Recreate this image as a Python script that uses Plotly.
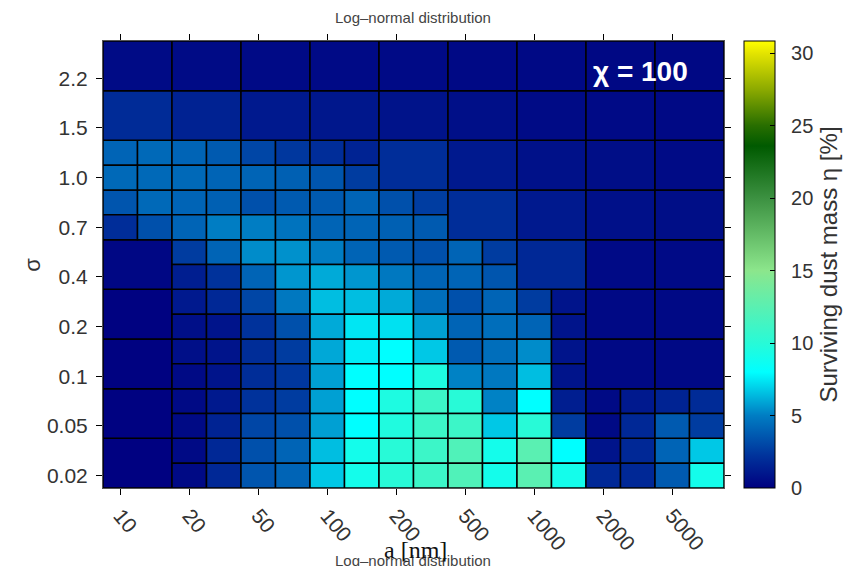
import plotly.graph_objects as go

# ---------------- data ----------------
a_labels = ["10", "20", "50", "100", "200", "500", "1000", "2000", "5000"]
sigma_labels = ["0.02", "0.05", "0.1", "0.2", "0.4", "0.7", "1.0", "1.5", "2.2"]
eta_ticks = [0, 5, 10, 15, 20, 25, 30]

# Surviving dust mass eta [%] per sigma row (columns follow a_labels).
# A single number = unrefined cell; a list = refined cell
# [top-left, top-right, bottom-left, bottom-right]
eta_s002 = [0.05, [0.44, 1.76, 0.44, 1.76], [3.32, 4.07, 3.5, 4.07], [6.5, 9.0, 6.73, 9.0],
            [10.0, 11.0, 10.0, 11.0], [12.0, 9.0, 12.0, 9.0], [12.5, 8.0, 12.5, 9.0],
            [0.88, 1.76, 1.76, 1.76], [4.07, 6.73, 3.7, 9.0]]
eta_s005 = [0.1, [0.44, 1.1, 0.44, 1.54], [2.2, 2.57, 2.95, 3.32], [5.8, 8.0, 5.8, 8.0],
            [9.5, 11.0, 9.6, 11.0], [10.0, 5.12, 11.0, 6.73], [8.0, 1.32, 10.0, 2.57],
            [0.44, 1.1, 0.44, 1.76], [1.54, 1.9, 3.7, 2.57]]
eta_s01 = [0.1, [0.66, 0.88, 0.44, 0.88], [1.98, 2.57, 1.98, 2.39], [6.0, 7.6, 5.8, 8.0],
           [8.0, 6.73, 8.0, 9.5], [3.7, 4.44, 5.12, 4.8], [5.35, 0.88, 6.5, 0.88],
           0.4, 0.4]
eta_s02 = [0.1, [1.1, 1.76, 0.66, 0.88], [2.95, 4.8, 2.2, 3.32], [6.5, 6.5, 6.04, 7.42],
           [6.04, 4.44, 7.3, 5.8], [3.32, 4.07, 4.07, 4.44], [2.57, 0.88, 4.07, 0.88],
           0.4, 0.4]
eta_s04 = [0.3, [2.57, 4.07, 1.32, 2.2], [5.35, 5.45, 4.07, 5.58], [5.0, 4.07, 6.04, 5.58],
           [3.7, 3.32, 4.8, 4.07], [4.07, 2.57, 4.07, 3.5], 1.76, 0.45, 0.45]
eta_s07 = [[3.5, 4.25, 2.0, 3.32], [4.07, 3.9, 4.07, 5.0], [3.32, 3.7, 5.0, 4.63],
           [3.7, 4.07, 4.07, 4.07], [3.32, 2.6, 3.9, 3.7], 2.0, 1.1, 0.7, 0.6]
eta_s10 = [[4.07, 4.25, 4.25, 4.25], [4.07, 3.7, 4.25, 4.07], [2.95, 2.4, 4.07, 3.9],
           [2.0, 1.54, 3.5, 2.57], 2.0, 1.1, 0.75, 0.6, 0.5]
eta_s15 = [1.9, 1.5, 1.1, 1.0, 0.85, 0.65, 0.5, 0.45, 0.4]
eta_s22 = [0.5, 0.5, 0.45, 0.45, 0.45, 0.4, 0.4, 0.35, 0.35]

eta_rows = [eta_s002, eta_s005, eta_s01, eta_s02, eta_s04, eta_s07, eta_s10, eta_s15, eta_s22]

eta_max = 30.84

# ---------------- build cells ----------------
xs, ws, bases, hs, cs = [], [], [], [], []
for j, row in enumerate(eta_rows):
    for i, v in enumerate(row):
        if isinstance(v, list):
            tl, tr, bl, br = v
            for (dx, dy, val) in [(0, 0.5, tl), (0.5, 0.5, tr), (0, 0, bl), (0.5, 0, br)]:
                xs.append(i + dx + 0.25); ws.append(0.5)
                bases.append(j + dy); hs.append(0.5); cs.append(val)
        else:
            xs.append(i + 0.5); ws.append(1.0)
            bases.append(j); hs.append(1.0); cs.append(v)

def f(v):
    return v / eta_max

colorscale = [
    [0.0, "rgb(0,0,128)"],
    [f(2.2), "rgb(0,50,155)"],
    [f(5.0), "rgb(0,125,195)"],
    [f(8.0), "rgb(0,255,255)"],
    [f(10.0), "rgb(40,250,215)"],
    [f(15.0), "rgb(140,230,140)"],
    [f(20.0), "rgb(60,145,65)"],
    [f(23.6), "rgb(0,90,0)"],
    [f(25.0), "rgb(40,110,0)"],
    [f(27.5), "rgb(140,170,0)"],
    [f(30.0), "rgb(228,228,0)"],
    [1.0, "rgb(255,255,0)"],
]

# pixel helpers (plot area: x 103..724, y 41.5..488)
def px(x):
    return (x - 103) / 621.0

def py(y):
    return (488 - y) / 446.5

fig = go.Figure()
fig.add_trace(go.Bar(
    x=xs, y=hs, base=bases, width=ws,
    marker=dict(
        color=cs, colorscale=colorscale, cmin=0, cmax=eta_max,
        line=dict(color="black", width=1.5),
        showscale=True,
        colorbar=dict(
            x=1.032, xanchor="left", y=0.5, yanchor="middle",
            len=1.0, lenmode="fraction", thickness=31, ypad=0, xpad=0,
            outlinecolor="black", outlinewidth=1,
            ticks="inside", ticklen=5, tickcolor="black",
            tickvals=eta_ticks, ticktext=["  " + str(t) for t in eta_ticks],
            tickfont=dict(family="Liberation Sans", size=20, color="#333"),
            title=dict(text="Surviving dust mass η [%]", side="right",
                       font=dict(family="Liberation Sans", size=24, color="#333")),
        ),
    ),
    hoverinfo="skip",
))

axis_common = dict(
    showgrid=False, zeroline=False,
    showline=True, linecolor="#555", linewidth=1, mirror="ticks",
    ticks="outside", ticklen=6, tickcolor="black", tickwidth=1,
    tickfont=dict(family="Liberation Sans", size=21, color="#333"),
)

fig.update_layout(
    width=865, height=566,
    margin=dict(l=103, r=141, t=41, b=78, pad=0),
    paper_bgcolor="white", plot_bgcolor="white",
    barmode="overlay", showlegend=False,
    xaxis=dict(range=[0, 9], tickvals=[i + 0.25 for i in range(9)], ticktext=a_labels,
               tickangle=50, **axis_common),
    yaxis=dict(range=[0, 9], tickvals=[j + 0.25 for j in range(9)], ticktext=sigma_labels,
               ticklabelstandoff=4, **axis_common),
    annotations=[
        dict(text="Log–normal distribution", xref="paper", yref="paper",
             x=px(413), y=py(18), xanchor="center", yanchor="middle", showarrow=False,
             font=dict(family="Liberation Sans", size=15, color="#444")),
        dict(text="Log–normal distribution", xref="paper", yref="paper",
             x=px(413), y=py(560), xanchor="center", yanchor="middle", showarrow=False,
             font=dict(family="Liberation Sans", size=15, color="#444")),
        dict(text="a [nm]", xref="paper", yref="paper",
             x=px(415), y=py(550), xanchor="center", yanchor="middle", showarrow=False,
             font=dict(family="Liberation Serif", size=24, color="#111")),
        dict(text="σ", xref="paper", yref="paper", textangle=-90,
             x=px(33), y=py(265), xanchor="center", yanchor="middle", showarrow=False,
             font=dict(family="Liberation Sans", size=22, color="#333")),
        dict(text="<b>χ = 100</b>", xref="paper", yref="paper",
             x=px(640), y=py(72), xanchor="center", yanchor="middle", showarrow=False,
             font=dict(family="Liberation Sans", size=28, color="white")),
    ],
)

fig.write_html("out.html")
